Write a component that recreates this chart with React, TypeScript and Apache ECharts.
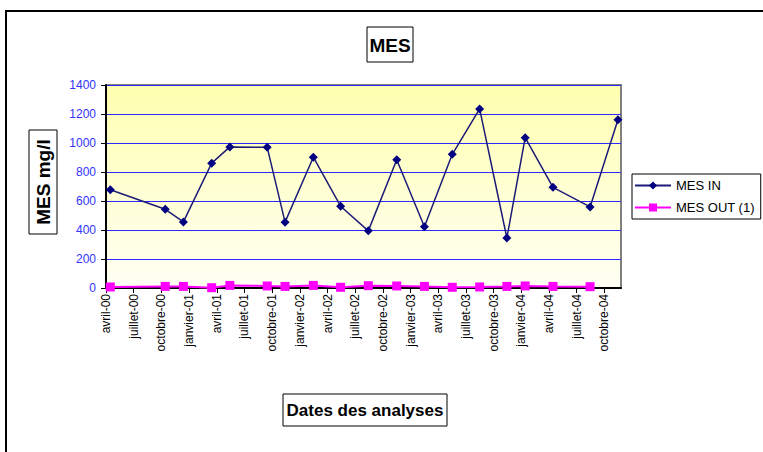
import React, { useEffect, useRef } from "react";
import * as echarts from "echarts";

const sampleDates = [
  "2000-04-15", "2000-10-14", "2000-12-13", "2001-03-15", "2001-05-14",
  "2001-09-15", "2001-11-13", "2002-02-14", "2002-05-14", "2002-08-14",
  "2002-11-16", "2003-02-15", "2003-05-17", "2003-08-16", "2003-11-14",
  "2004-01-14", "2004-04-14", "2004-08-15", "2004-11-15",
];
const mesIn = [678, 543, 456, 861, 973, 970, 454, 902, 564, 394, 884, 422, 922, 1235, 345, 1037, 694, 559, 1160];
const mesOut = [7, 11, 11, 2, 18, 14, 11, 18, 5, 16, 14, 11, 5, 7, 11, 14, 11, 9];

const tickDates = [
  "2000-04-01", "2000-07-01", "2000-10-01", "2001-01-01", "2001-04-01",
  "2001-07-01", "2001-10-01", "2002-01-01", "2002-04-01", "2002-07-01",
  "2002-10-01", "2003-01-01", "2003-04-01", "2003-07-01", "2003-10-01",
  "2004-01-01", "2004-04-01", "2004-07-01", "2004-10-01",
];
const tickLabels = [
  "avril-00", "juillet-00", "octobre-00", "janvier-01", "avril-01",
  "juillet-01", "octobre-01", "janvier-02", "avril-02", "juillet-02",
  "octobre-02", "janvier-03", "avril-03", "juillet-03", "octobre-03",
  "janvier-04", "avril-04", "juillet-04", "octobre-04",
];
const xMin = "2000-04-01";
const xMax = "2004-11-25";

// Date -> fractional months since January 2000
const toMonths = (s: string) => {
  const [y, m, d] = s.split("-").map(Number);
  const dim = new Date(Date.UTC(y, m, 0)).getUTCDate();
  return (y - 2000) * 12 + (m - 1) + (d - 1) / dim;
};

const FONT = "Arial, 'Liberation Sans', sans-serif";

export default function App() {
  const ref = useRef<HTMLDivElement>(null);
  useEffect(() => {
    if (!ref.current) return;
    const chart = echarts.init(ref.current, undefined, { renderer: "svg" });
    const tickPos = tickDates.map(toMonths);
    const labelFor = (v: number) => {
      const i = tickPos.findIndex((t) => Math.abs(t - v) < 0.01);
      return i >= 0 ? tickLabels[i] : "";
    };
    chart.setOption({
      animation: false,
      backgroundColor: "#ffffff",
      textStyle: { fontFamily: FONT },
      grid: {
        left: 106,
        top: 85,
        right: 142,
        bottom: 164,
        show: true,
        borderColor: "#808080",
        borderWidth: 2,
        backgroundColor: new echarts.graphic.LinearGradient(0, 0, 0, 1, [
          { offset: 0, color: "#ffffb0" },
          { offset: 1, color: "#fffff4" },
        ]),
      },
      xAxis: {
        type: "value",
        min: toMonths(xMin),
        max: toMonths(xMax),
        interval: 3,
        axisLine: { show: true, onZero: false, lineStyle: { color: "#000000", width: 2 } },
        axisTick: {
          show: true,
          length: 5,
          inside: false,
          customValues: tickPos,
          lineStyle: { color: "#000000", width: 1 },
        },
        axisLabel: {
          customValues: tickPos,
          rotate: 90,
          margin: 6,
          fontSize: 12,
          color: "#000000",
          fontFamily: FONT,
          formatter: (v: number) => labelFor(v),
          hideOverlap: false,
        },
        splitLine: { show: false },
      },
      yAxis: {
        type: "value",
        min: 0,
        max: 1400,
        interval: 200,
        axisLine: { show: true, lineStyle: { color: "#000000", width: 2 } },
        axisTick: { show: true, length: 5, lineStyle: { color: "#000000", width: 1 } },
        axisLabel: {
          fontSize: 12,
          color: "#3333ff",
          margin: 10,
          fontFamily: FONT,
          formatter: (v: number) => String(v),
        },
        splitLine: { show: true, lineStyle: { color: "#2a2aff", width: 1 } },
      },
      legend: {
        orient: "vertical",
        left: 632,
        top: 174,
        padding: [5, 6, 5, 2],
        itemWidth: 36,
        itemHeight: 10,
        itemGap: 9,
        borderColor: "#000000",
        borderWidth: 1,
        backgroundColor: "#ffffff",
        textStyle: { fontSize: 13, color: "#000000", fontFamily: FONT },
        data: ["MES IN", "MES OUT (1)"],
      },
      series: [
        {
          name: "MES IN",
          type: "line",
          data: sampleDates.map((d, i) => [toMonths(d), mesIn[i]]),
          symbol: "diamond",
          symbolSize: 9,
          itemStyle: { color: "#000080" },
          lineStyle: { color: "#1c1c78", width: 1.5 },
          z: 3,
        },
        {
          name: "MES OUT (1)",
          type: "line",
          data: mesOut.map((v, i) => [toMonths(sampleDates[i]), v]),
          symbol: "rect",
          symbolSize: 9,
          itemStyle: { color: "#ff00ff" },
          lineStyle: { color: "#ff00ff", width: 2 },
          z: 4,
        },
      ],
      graphic: [
        {
          type: "rect",
          shape: { x: 6, y: 11, width: 900, height: 600 },
          style: { fill: "none", stroke: "#000000", lineWidth: 2 },
          silent: true,
        },
        {
          type: "rect",
          shape: { x: 367, y: 27, width: 46, height: 35 },
          style: { fill: "#ffffff", stroke: "#000000", lineWidth: 1 },
        },
        {
          type: "text",
          x: 390,
          y: 45,
          style: {
            text: "MES",
            font: `bold 19px ${FONT}`,
            fill: "#000000",
            align: "center",
            verticalAlign: "middle",
          },
        },
        {
          type: "rect",
          shape: { x: 29, y: 130, width: 28, height: 104 },
          style: { fill: "#ffffff", stroke: "#000000", lineWidth: 1 },
        },
        {
          type: "text",
          x: 43,
          y: 182,
          rotation: Math.PI / 2,
          style: {
            text: "MES mg/l",
            font: `bold 19px ${FONT}`,
            fill: "#000000",
            align: "center",
            verticalAlign: "middle",
          },
        },
        {
          type: "rect",
          shape: { x: 283, y: 394, width: 164, height: 32 },
          style: { fill: "#ffffff", stroke: "#000000", lineWidth: 1 },
        },
        {
          type: "text",
          x: 365,
          y: 410,
          style: {
            text: "Dates des analyses",
            font: `bold 17px ${FONT}`,
            fill: "#000000",
            align: "center",
            verticalAlign: "middle",
          },
        },
      ],
    });
    return () => chart.dispose();
  }, []);
  return (
    <div
      ref={ref}
      style={{ position: "absolute", left: 0, top: 0, width: 763, height: 452 }}
    />
  );
}
